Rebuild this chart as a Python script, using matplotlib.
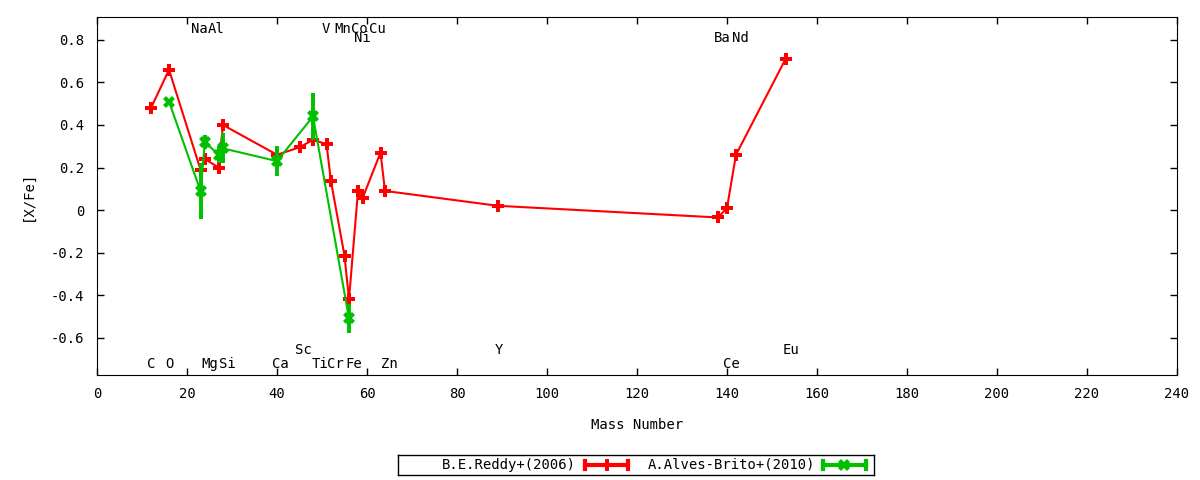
import matplotlib
matplotlib.use("Agg")
import matplotlib.pyplot as plt
from matplotlib.ticker import FuncFormatter, MultipleLocator

# B.E.Reddy+(2006)
reddy_mass = [12, 16, 23, 24, 27, 28, 40, 45, 48, 51, 52, 55, 56, 58, 59, 63, 64, 89, 138, 140, 142, 153]
reddy_xfe = [0.48, 0.66, 0.19, 0.24, 0.20, 0.40, 0.26, 0.295, 0.33, 0.31, 0.135, -0.215, -0.42,
             0.09, 0.055, 0.27, 0.09, 0.02, -0.035, 0.01, 0.26, 0.71]

# A.Alves-Brito+(2010)
alves_mass = [16, 23, 24, 27, 28, 40, 48, 56]
alves_xfe = [0.51, 0.09, 0.32, 0.26, 0.29, 0.23, 0.44, -0.51]
alves_err = [0.01, 0.13, 0.035, 0.04, 0.07, 0.07, 0.11, 0.07]

# element labels: (name, x, y)
top_labels = [("Na", 22.7, 0.852), ("Al", 26.4, 0.852), ("V", 50.8, 0.852), ("Mn", 54.7, 0.852),
              ("Co", 58.4, 0.852), ("Ni", 59.0, 0.81), ("Cu", 62.2, 0.852),
              ("Ba", 139.0, 0.81), ("Nd", 143.0, 0.81)]
bottom_labels = [("C", 12.1, -0.725), ("O", 16.1, -0.725), ("Mg", 25.1, -0.725), ("Si", 28.9, -0.725),
                 ("Ca", 40.7, -0.725), ("Sc", 45.9, -0.659), ("Ti", 49.5, -0.725), ("Cr", 53.0, -0.725),
                 ("Fe", 57.0, -0.725), ("Zn", 64.9, -0.725), ("Y", 89.4, -0.659),
                 ("Ce", 141.0, -0.725), ("Eu", 154.3, -0.659)]

RED = "#ff0000"
GREEN = "#00c000"
FONT = "DejaVu Sans Mono"
FS = 10

plt.rcParams["font.family"] = FONT
plt.rcParams["font.size"] = FS

fig = plt.figure(figsize=(12, 4.8), dpi=100)
ax = fig.add_axes([97 / 1200, 1 - 375 / 480, 1080 / 1200, 358 / 480])

ax.plot(reddy_mass, reddy_xfe, color=RED, linewidth=1.5, marker="P", markersize=8.5,
        markeredgewidth=0, zorder=3)
ax.errorbar(alves_mass, alves_xfe, yerr=alves_err, color=GREEN, linewidth=1.5,
            elinewidth=2.8, capsize=4, capthick=2.8, marker="X", markersize=8,
            markeredgewidth=0, zorder=4)

for name, x, y in top_labels + bottom_labels:
    ax.text(x, y, name, ha="center", va="center", fontsize=FS)

ax.set_xlim(0, 240)
ax.set_ylim(-0.776, 0.908)
ax.xaxis.set_major_locator(MultipleLocator(20))
ax.set_yticks([-0.6, -0.4, -0.2, 0, 0.2, 0.4, 0.6, 0.8])
ax.yaxis.set_major_formatter(FuncFormatter(lambda v, p: "{:g}".format(round(v, 2))))
ax.tick_params(direction="in", top=True, right=True, length=5, width=1)
ax.tick_params(axis="x", pad=9)
ax.tick_params(axis="y", pad=9)
ax.set_xlabel("Mass Number", labelpad=12)
ax.set_ylabel("[X/Fe]", labelpad=12)

# gnuplot-style key box below the plot
lax = fig.add_axes([398 / 1200, 5 / 480, 476 / 1200, 20 / 480])
lax.set_xlim(0, 476)
lax.set_ylim(0, 20)
lax.set_xticks([])
lax.set_yticks([])
for s in lax.spines.values():
    s.set_linewidth(1)

entries = [("B.E.Reddy+(2006)", RED, "P", 178, 187, 230),
           ("A.Alves-Brito+(2010)", GREEN, "X", 417, 425, 468)]
for label, col, mk, tx, x0, x1 in entries:
    lax.text(tx, 10, label, ha="right", va="center", fontsize=FS)
    lax.plot([x0, x1], [10, 10], color=col, linewidth=3)
    lax.plot([x0, x0], [6, 14], color=col, linewidth=3)
    lax.plot([x1, x1], [6, 14], color=col, linewidth=3)
    lax.plot([(x0 + x1) / 2], [10], color=col, marker=mk, markersize=8, markeredgewidth=0)

fig.savefig("out.png", dpi=100)
plt.close(fig)
